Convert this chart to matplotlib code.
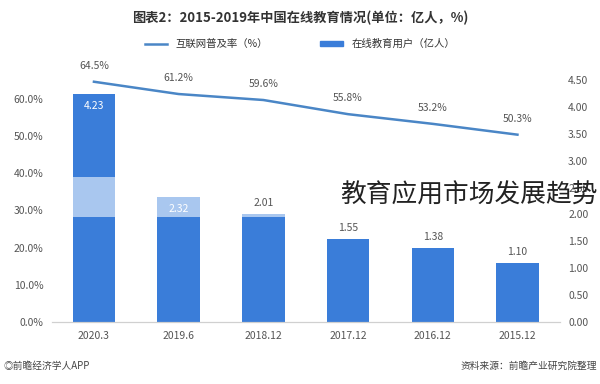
"""
在线教育用户与互联网普及率 - bar + line chart on twin axes.
"""

import matplotlib.pyplot as plt
import numpy as np

plt.rcParams["font.family"] = ["Noto Sans CJK SC", "DejaVu Sans"]

# data
periods = ["2020.3", "2019.6", "2018.12", "2017.12", "2016.12", "2015.12"]
users = [4.23, 2.32, 2.01, 1.55, 1.38, 1.10]          # 亿人
penetration = [64.5, 61.2, 59.6, 55.8, 53.2, 50.3]    # %
pct_ticks = [0, 10, 20, 30, 40, 50, 60]
user_ticks = [0.0, 0.5, 1.0, 1.5, 2.0, 2.5, 3.0, 3.5, 4.0, 4.5]

# pale band that washes over the bars
band_lo, band_hi = 1.96, 2.69

dark_blue = "#3a7dd9"
light_blue = "#a9c7ef"
line_blue = "#4a86c6"
tick_gray = "#555555"


def main():
    fig = plt.figure(figsize=(6.0, 3.84), dpi=100)
    ax_pct = fig.add_axes([0.086, 0.161, 0.847, 0.631])
    ax_users = ax_pct.twinx()

    x = np.arange(len(periods))

    # bars on the right (users) scale
    ax_users.bar(x, users, width=0.5, color=dark_blue, zorder=2)
    users_arr = np.array(users)
    band_top = np.minimum(users_arr, band_hi)
    band_h = np.clip(band_top - band_lo, 0, None)
    ax_users.bar(x, band_h, width=0.5, bottom=band_lo, color=light_blue, zorder=3)

    for i, v in enumerate(users):
        if i < 2:
            ax_users.annotate(f"{v:.2f}", (x[i], v), xytext=(0, -5),
                              textcoords="offset points", ha="center", va="top",
                              color="white", fontsize=7.5, zorder=5)
        else:
            ax_users.annotate(f"{v:.2f}", (x[i], v), xytext=(0, 4),
                              textcoords="offset points", ha="center", va="bottom",
                              color=tick_gray, fontsize=7.5, zorder=5)

    # line on the left (percent) scale, drawn above the bars
    ax_pct.set_zorder(ax_users.get_zorder() + 1)
    ax_pct.patch.set_visible(False)
    ax_pct.plot(x, penetration, color=line_blue, linewidth=1.8, zorder=4)
    for xi, p in zip(x, penetration):
        ax_pct.annotate(f"{p:.1f}%", (xi, p), xytext=(0, 8),
                        textcoords="offset points", ha="center", va="bottom",
                        color=tick_gray, fontsize=7.5)

    ax_pct.set_xlim(-0.5, len(periods) - 0.5)
    ax_pct.set_ylim(0, 65)
    ax_users.set_ylim(0, 4.5)
    ax_pct.set_yticks(pct_ticks)
    ax_pct.set_yticklabels([f"{t:.1f}%" for t in pct_ticks])
    ax_users.set_yticks(user_ticks)
    ax_users.set_yticklabels([f"{t:.2f}" for t in user_ticks])
    ax_pct.set_xticks(x)
    ax_pct.set_xticklabels(periods)

    for a in (ax_pct, ax_users):
        for side in ("top", "left", "right"):
            a.spines[side].set_visible(False)
        a.spines["bottom"].set_color("#d0d0d0")
        a.tick_params(length=0, labelsize=7.5, labelcolor=tick_gray, pad=6)

    # legend
    handles = [
        plt.Line2D([], [], color=line_blue, linewidth=1.8),
        plt.Rectangle((0, 0), 1, 1, color=dark_blue),
    ]
    fig.legend(handles, ["互联网普及率（%）", "在线教育用户（亿人）"],
               loc="center", bbox_to_anchor=(0.5, 0.885), ncol=2, frameon=False,
               fontsize=7.5, handlelength=2.2, handleheight=0.4, columnspacing=5,
               labelcolor="#333333")

    fig.text(0.5, 0.953, "图表2：2015-2019年中国在线教育情况(单位：亿人，%)",
             ha="center", va="center", fontsize=9.5, fontweight="bold", color="#333333")
    fig.text(0.005, 0.048, "◎前瞻经济学人APP", ha="left", va="center",
             fontsize=7, color="#444444")
    fig.text(0.995, 0.048, "资料来源：前瞻产业研究院整理", ha="right", va="center",
             fontsize=7, color="#444444")

    # overlay caption
    fig.text(0.567, 0.49, "教育应用市场发展趋势", ha="left", va="center",
             fontsize=18.5, color="#222222", fontweight="light")

    fig.savefig("out.png", dpi=100)
    plt.close(fig)


if __name__ == "__main__":
    main()
